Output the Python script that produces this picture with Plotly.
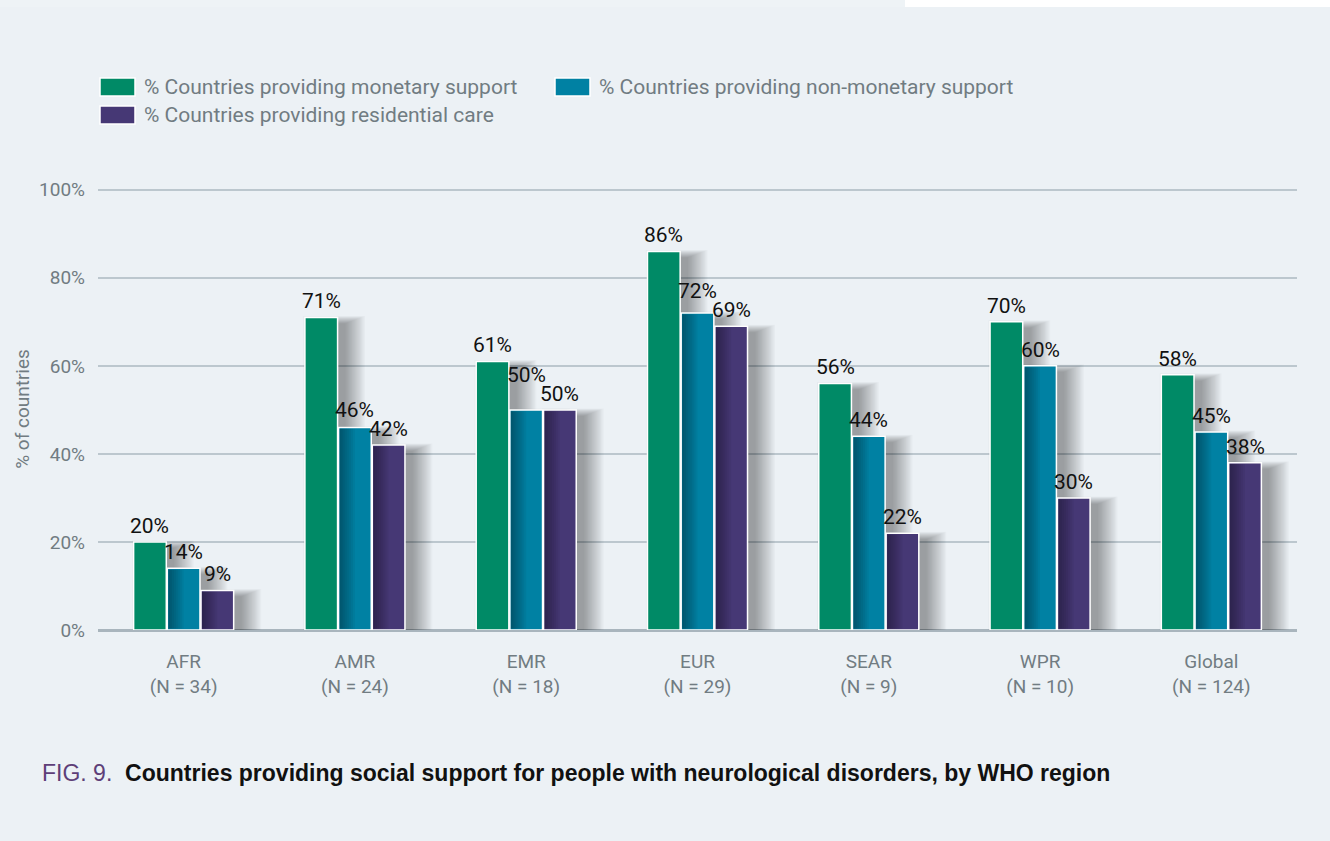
import plotly.graph_objects as go

# Data
regions = ["AFR", "AMR", "EMR", "EUR", "SEAR", "WPR", "Global"]
n_countries = [34, 24, 18, 29, 9, 10, 124]
monetary = [20, 71, 61, 86, 56, 70, 58]
non_monetary = [14, 46, 50, 72, 44, 60, 45]
residential = [9, 42, 50, 69, 22, 30, 38]
series_names = [
    "% Countries providing monetary support",
    "% Countries providing non-monetary support",
    "% Countries providing residential care",
]
series_colors = ["#008a66", "#0081a3", "#463875"]
y_ticks = [0, 20, 40, 60, 80, 100]

W, H = 1330, 841
L, R, T, B = 98, 33, 188, 211
BG = "#ecf1f5"
FONT = "Roboto, Liberation Sans, sans-serif"
GREY = "#717c82"
BARGAP, GROUPGAP = 0.41, 0.03
Y_MAX = 100.4

tick_text = [f"{r}<br>(N = {n})" for r, n in zip(regions, n_countries)]
series_values = [monetary, non_monetary, residential]

fig = go.Figure()
for name, vals, col in zip(series_names, series_values, series_colors):
    fig.add_trace(go.Bar(
        x=list(range(len(regions))), y=vals, name=name,
        marker=dict(color=col, line=dict(color="white", width=1.5)),
        showlegend=False, hoverinfo="x+y",
    ))

plot_w = W - L - R
plot_h = H - T - B
px_per_cat = plot_w / len(regions)
px_per_pct = plot_h / Y_MAX


def px_x(px):
    return (px - L) / plot_w


def px_y(py):
    return (H - B - py) / plot_h


shapes = []
annotations = []

# Bar geometry in category units, following the grouped-bar layout
slot = (1 - BARGAP) / len(series_values)
bar_w = slot * (1 - GROUPGAP)


def bar_edges(j, i):
    c = j - (1 - BARGAP) / 2 + slot * (i + 0.5)
    return c - bar_w / 2, c + bar_w / 2


# Soft drop shadows behind each bar (many faint stacked layers)
dx, dy = 8 / px_per_cat, 6 / px_per_pct
LAYERS = 16
for i, vals in enumerate(series_values):
    for j, v in enumerate(vals):
        x0, x1 = bar_edges(j, i)
        for k in range(LAYERS):
            ex, ey = (1.3 * k) / px_per_cat, (0.5 * k) / px_per_pct
            shapes.append(dict(type="rect", xref="x", yref="y", layer="between",
                               x0=x0 + dx - ex * 0.5, x1=x1 + dx + ex,
                               y0=-ey * 0.6, y1=v - dy + ey,
                               fillcolor="rgba(0,0,0,0.024)", line=dict(width=0)))

# Darker left edge on the non-monetary and residential bars
for i in (1, 2):
    for j, v in enumerate(series_values[i]):
        x0, x1 = bar_edges(j, i)
        inner0 = x0 + 1 / px_per_cat
        inner1 = x1 - 1 / px_per_cat
        span = (inner1 - inner0) * 0.5
        steps = 8
        for s in range(steps):
            shapes.append(dict(type="rect", xref="x", yref="y", layer="above",
                               x0=inner0, x1=inner0 + span * (s + 1) / steps,
                               y0=0.3, y1=v - 0.3,
                               fillcolor="rgba(0,0,0,0.045)", line=dict(width=0)))

# Value labels above the bars; a label is lifted when it would collide
# with its right-hand neighbour's label
LABEL_H = 20
LABEL_GAP = 2
for j in range(len(regions)):
    bottoms = [None] * len(series_values)
    for i in reversed(range(len(series_values))):
        v = series_values[i][j]
        bottom = v * px_per_pct + LABEL_GAP
        if i + 1 < len(series_values):
            nb = bottoms[i + 1]
            if nb - LABEL_H < bottom < nb + LABEL_H - 1:
                bottom = nb + LABEL_H - 1
        bottoms[i] = bottom
        x0, x1 = bar_edges(j, i)
        annotations.append(dict(xref="x", yref="y", x=(x0 + x1) / 2, y=v,
                                yshift=bottom - v * px_per_pct, yanchor="bottom",
                                xanchor="center", showarrow=False, text=f"{v}%",
                                font=dict(family=FONT, size=21, color="#111111")))

# Custom legend: wide swatches with labels
legend_items = [(100, 87), (555, 87), (100, 115)]
for (lx, ly), name, col in zip(legend_items, series_names, series_colors):
    shapes.append(dict(type="rect", xref="paper", yref="paper",
                       x0=px_x(lx), x1=px_x(lx + 35), y0=px_y(ly - 9), y1=px_y(ly + 9),
                       fillcolor=col, line=dict(color="white", width=1.5)))
    annotations.append(dict(xref="paper", yref="paper", x=px_x(lx + 42), y=px_y(ly),
                            text=name, showarrow=False, xanchor="left", yanchor="middle",
                            font=dict(family=FONT, size=21, color=GREY)))

# Light strip along the top edge
shapes.append(dict(type="rect", xref="paper", yref="paper", layer="above",
                   x0=px_x(0), x1=px_x(W), y0=px_y(7), y1=px_y(0),
                   fillcolor="#eef3f6", line=dict(width=0)))
shapes.append(dict(type="rect", xref="paper", yref="paper", layer="above",
                   x0=px_x(905), x1=px_x(W), y0=px_y(7), y1=px_y(0),
                   fillcolor="#ffffff", line=dict(width=0)))

# Caption
annotations.append(dict(
    xref="paper", yref="paper", x=px_x(40), y=px_y(773),
    text="<span style='color:#5e3f78'>FIG. 9.</span>  <b>Countries providing social support for people with neurological disorders, by WHO region</b>",
    showarrow=False, xanchor="left", yanchor="middle",
    font=dict(family="Liberation Sans, Arial, sans-serif", size=23, color="#111111")))

fig.update_layout(
    width=W, height=H,
    margin=dict(l=L, r=R, t=T, b=B),
    paper_bgcolor=BG, plot_bgcolor=BG,
    barmode="group", bargap=BARGAP, bargroupgap=GROUPGAP,
    shapes=shapes, annotations=annotations,
    xaxis=dict(tickmode="array", tickvals=list(range(len(regions))), ticktext=tick_text,
               range=[-0.5, len(regions) - 0.5],
               tickfont=dict(family=FONT, size=19, color=GREY),
               showgrid=False, showline=False, zeroline=False, ticks="", ticklen=0,
               ticklabelstandoff=18, automargin=False),
    yaxis=dict(range=[0, Y_MAX], tickvals=y_ticks, ticktext=[f"{v}%" for v in y_ticks],
               tickfont=dict(family=FONT, size=19, color=GREY),
               gridcolor="#bcc7ce", gridwidth=1.5, zeroline=True, zerolinecolor="#a9b5bd",
               zerolinewidth=2.5, ticks="", ticklabelstandoff=12, automargin=False,
               title=dict(text="% of countries", standoff=4,
                          font=dict(family=FONT, size=19, color=GREY))),
)

fig.write_html("out.html")
